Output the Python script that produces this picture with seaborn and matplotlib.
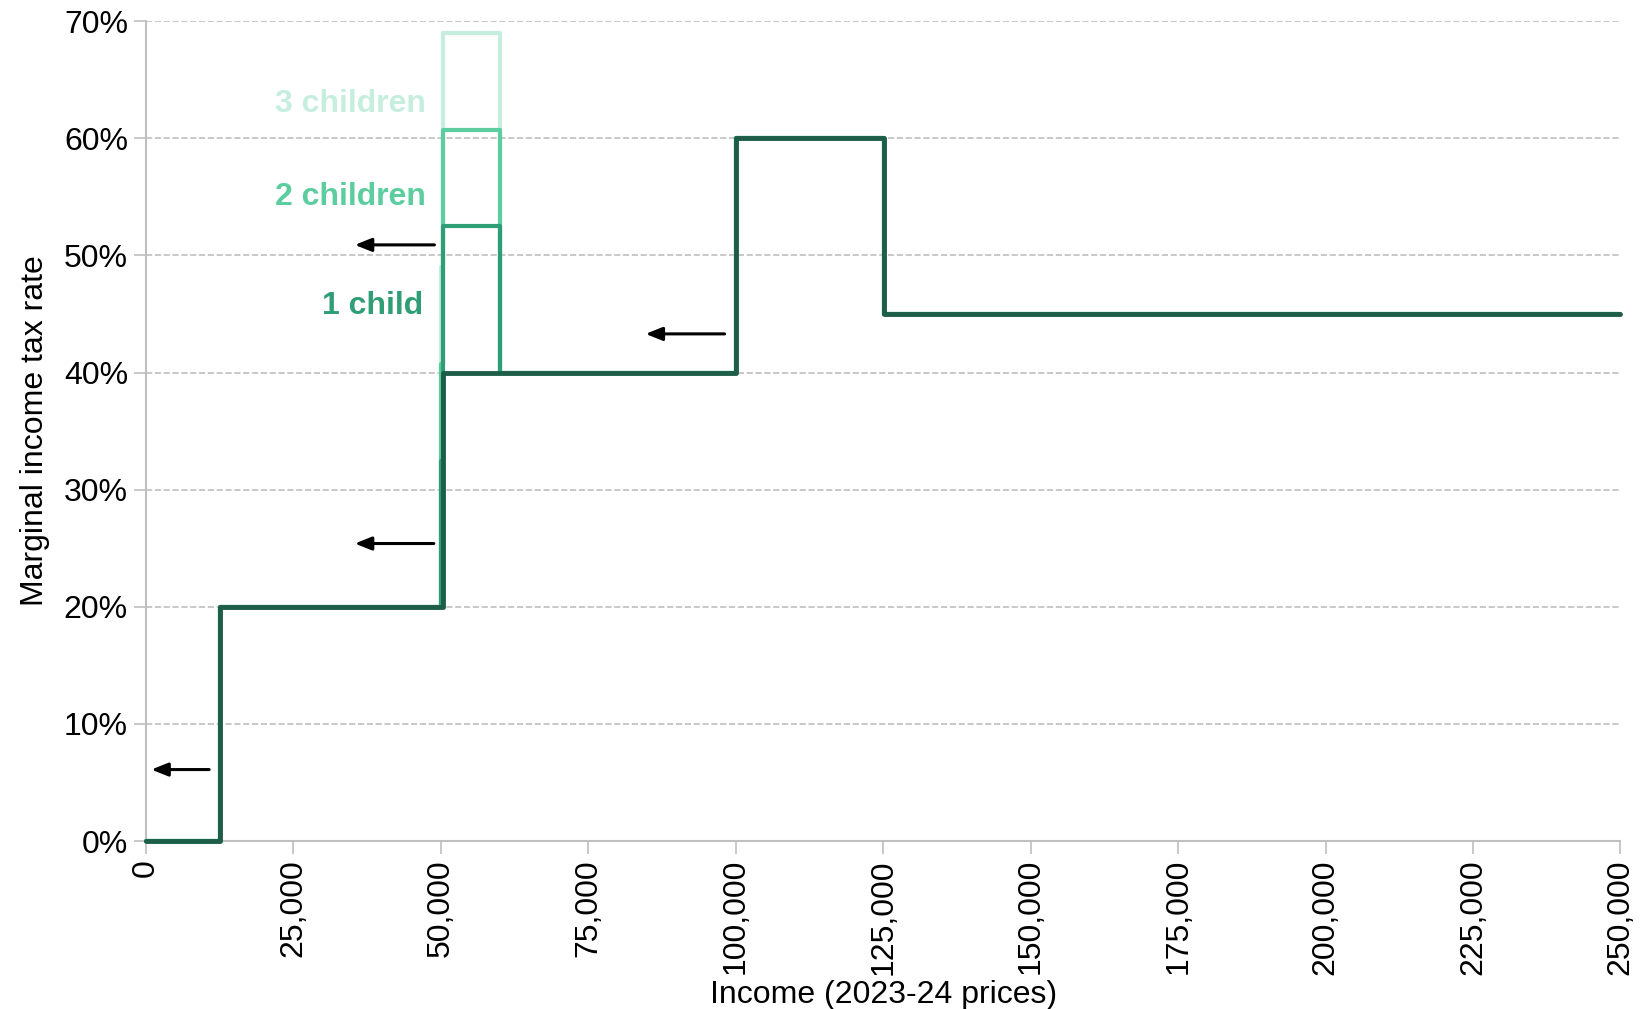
import seaborn as sns
import matplotlib.pyplot as plt
import matplotlib.ticker as mticker

# income thresholds (2023-24) and marginal rates (%)
income = [0, 12570, 50000, 50270, 60000, 100000, 125140, 250000]
no_children = [0, 20, 20, 40, 40, 60, 45, 45]
one_child = [0, 20, 32.48, 52.48, 40, 60, 45, 45]
two_children = [0, 20, 40.74, 60.74, 40, 60, 45, 45]
three_children = [0, 20, 49.0, 69.0, 40, 60, 45, 45]

series_labels = ['3 children', '2 children', '1 child']
label_y = [62.9, 55.0, 45.7]
label_x = [47500, 47500, 47000]

# arrows: (tail x, head x, y)
arrow_tail_x = [10700, 48800, 48900, 98100]
arrow_head_x = [900, 35400, 35400, 84700]
arrow_y = [6.1, 25.4, 50.9, 43.3]

x_ticks = list(range(0, 250001, 25000))
y_ticks = list(range(0, 71, 10))

sns.set_style('white')
plt.rcParams['font.family'] = ['Liberation Sans', 'DejaVu Sans']
plt.rcParams['text.color'] = 'black'
plt.rcParams['axes.labelcolor'] = 'black'
plt.rcParams['xtick.labelcolor'] = 'black'
plt.rcParams['ytick.labelcolor'] = 'black'

fig = plt.figure(figsize=(16.5, 10.09), dpi=100)
ax = fig.add_axes([0.0885, 0.1665, 0.8936, 0.8125])

colors = ['#c6eedf', '#5ccd9e', '#2f9e76']
for vals, col in zip([three_children, two_children, one_child], colors):
    sns.lineplot(x=income, y=vals, drawstyle='steps-post', color=col,
                 linewidth=3.0, sort=False, ax=ax, clip_on=False, zorder=3)
sns.lineplot(x=income, y=no_children, drawstyle='steps-post', color='#1e5e48',
             linewidth=3.5, sort=False, ax=ax, clip_on=False, zorder=4)

for txt, xx, yy, col in zip(series_labels, label_x, label_y, colors):
    ax.text(xx, yy, txt, ha='right', va='center', fontsize=23,
            fontweight='bold', color=col)

for tx, hx, yy in zip(arrow_tail_x, arrow_head_x, arrow_y):
    ax.annotate('', xy=(hx, yy), xytext=(tx, yy),
                arrowprops=dict(arrowstyle='-|>,head_length=1.0,head_width=0.4',
                                color='black', lw=2.2, shrinkA=0, shrinkB=0))

ax.set_xlim(0, 250000)
ax.set_ylim(0, 70)
ax.set_xticks(x_ticks)
ax.set_yticks(y_ticks)
ax.xaxis.set_major_formatter(mticker.FuncFormatter(lambda v, p: f'{int(v):,}'))
ax.yaxis.set_major_formatter(mticker.FuncFormatter(lambda v, p: f'{int(v)}%'))
ax.tick_params(axis='x', labelrotation=90, labelsize=23, length=9, width=1.2,
               color='#bfbfbf', direction='out', bottom=True, pad=4)
ax.tick_params(axis='y', labelsize=23, length=9, width=1.2,
               color='#bfbfbf', direction='out', left=True, pad=4)
ax.grid(True, axis='y', linestyle='--', color='#bfbfbf', linewidth=1.2)
ax.grid(False, axis='x')
for s in ['top', 'right']:
    ax.spines[s].set_visible(False)
for s in ['left', 'bottom']:
    ax.spines[s].set_color('#bfbfbf')
    ax.spines[s].set_linewidth(1.5)

ax.set_xlabel('Income (2023-24 prices)', fontsize=23, labelpad=4)
ax.set_ylabel('Marginal income tax rate', fontsize=23, labelpad=10)

fig.savefig('out.png', dpi=100)
